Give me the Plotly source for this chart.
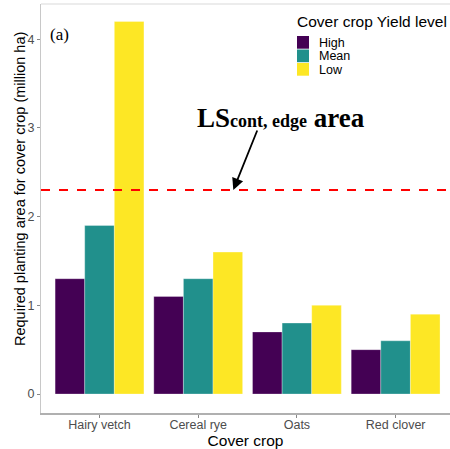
import plotly.graph_objects as go

categories = ["Hairy vetch", "Cereal rye", "Oats", "Red clover"]
levels = ["High", "Mean", "Low"]
high = [1.3, 1.1, 0.7, 0.5]
mean = [1.9, 1.3, 0.8, 0.6]
low = [4.2, 1.6, 1.0, 0.9]
colors = ["#440154", "#21908C", "#FDE725"]
threshold = 2.3
y_ticks = [0, 1, 2, 3, 4]

fig = go.Figure()
for name, vals, col in zip(levels, [high, mean, low], colors):
    fig.add_trace(go.Bar(x=categories, y=vals, name=name, marker_color=col,
                         marker_line_width=0.6, marker_line_color="rgba(255,255,255,0.5)",
                         showlegend=False))

fig.add_hline(y=threshold, line_dash="dash", line_color="#FF0000", line_width=2)

# top light border
fig.add_shape(type="line", xref="paper", yref="paper", x0=0, x1=1, y0=1.0, y1=1.0,
              line=dict(color="#d9d9d9", width=1))

# manual legend
leg_x0 = (297 - 41) / 409
fig.add_annotation(xref="paper", yref="paper", x=leg_x0 - 0.004, y=(413 - 21) / 409,
                   text="Cover crop Yield level", showarrow=False, xanchor="left", yanchor="middle",
                   font=dict(family="Liberation Sans, Arial", size=15.5, color="black"))
for i, (name, col) in enumerate(zip(levels, colors)):
    ytop = 36 + i * 13.5
    fig.add_shape(type="rect", xref="paper", yref="paper",
                  x0=leg_x0, x1=(309 - 41) / 409,
                  y0=(413 - ytop - 12.7) / 409, y1=(413 - ytop) / 409,
                  fillcolor=col, line_width=0)
    fig.add_annotation(xref="paper", yref="paper", x=(317 - 41) / 409,
                       y=(413 - ytop - 6.5) / 409, text=name, showarrow=False,
                       xanchor="left", yanchor="middle",
                       font=dict(family="Liberation Sans, Arial", size=12.5, color="black"))

fig.add_annotation(xref="paper", yref="paper", x=(48 - 41) / 409, y=(413 - 34) / 409,
                   text="(a)", showarrow=False, xanchor="left", yanchor="middle",
                   font=dict(family="Liberation Serif, Times New Roman", size=17, color="black"))

# y-axis title placed as annotation
fig.add_annotation(xref="paper", yref="paper", x=(20 - 41) / 409, y=(413 - 189) / 409,
                   text="Required planting area for cover crop (million ha)", textangle=-90,
                   showarrow=False, xanchor="center", yanchor="middle",
                   font=dict(family="Liberation Sans, Arial", size=14.5, color="black"))

fig.add_annotation(x=(281 - 99.5) / 98.7, y=(394 - 118) / 88.7,
                   text="<b>LS<span style='font-size:18px'>cont, edge</span> area</b>",
                   showarrow=False, xanchor="center", yanchor="middle",
                   font=dict(family="Liberation Serif, Times New Roman", size=27, color="black"))

fig.add_annotation(x=(233.3 - 99.5) / 98.7, y=threshold, text="", showarrow=True,
                   ax=24.5, ay=-61, axref="pixel", ayref="pixel",
                   arrowhead=2, arrowsize=1.3, arrowwidth=1.8, arrowcolor="black")

fig.update_layout(
    width=450, height=449,
    margin=dict(l=41, r=0, t=4, b=36),
    plot_bgcolor="white", paper_bgcolor="white",
    barmode="group", bargap=0.1, bargroupgap=0,
    font=dict(family="Liberation Sans, Arial", color="black"),
)
fig.update_xaxes(range=[-0.593, 3.551], showgrid=False, showline=True,
                 linecolor="#b0b0b0", linewidth=2, ticks="outside", ticklen=3,
                 tickcolor="#888888", ticklabelstandoff=-4,
                 tickfont=dict(size=12.5, color="#4d4d4d"),
                 title=dict(text="Cover crop", font=dict(size=15.5, color="black"), standoff=1))
fig.update_yaxes(range=[-0.214, 4.397], tickvals=y_ticks, showgrid=False, zeroline=False,
                 showline=True, linecolor="#c8c8c8", linewidth=1.2, ticks="outside", ticklen=3,
                 tickcolor="#888888",
                 tickfont=dict(size=12.5, color="#4d4d4d"))

fig.write_html("out.html", config={"displayModeBar": False},
               post_script="document.body.style.margin='0';document.body.style.padding='0';")
